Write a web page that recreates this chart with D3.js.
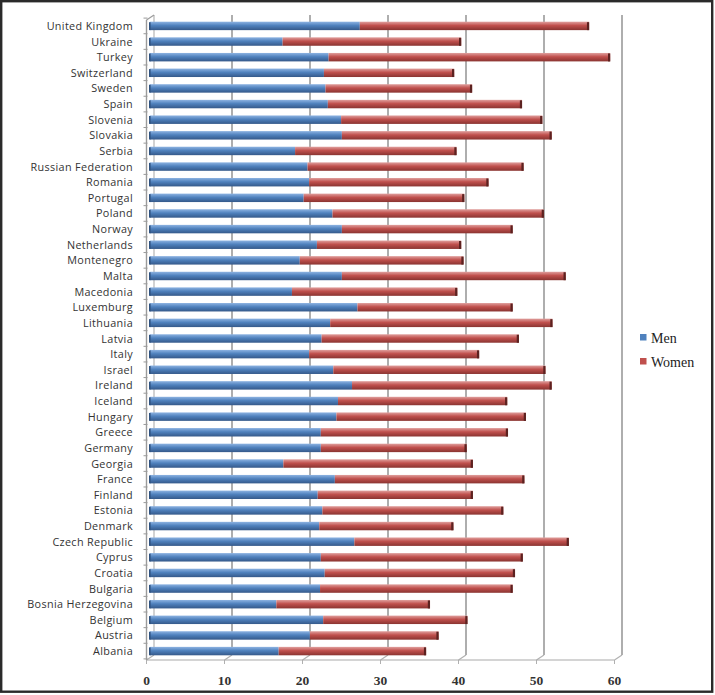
<!DOCTYPE html>
<html><head><meta charset="utf-8">
<script src="https://cdn.jsdelivr.net/npm/d3@7/dist/d3.min.js"></script>
<style>html,body{margin:0;padding:0;background:#fff;}svg{display:block;}</style>
</head><body>
<script>
const countries = ["United Kingdom","Ukraine","Turkey","Switzerland","Sweden","Spain","Slovenia","Slovakia","Serbia","Russian Federation","Romania","Portugal","Poland","Norway","Netherlands","Montenegro","Malta","Macedonia","Luxemburg","Lithuania","Latvia","Italy","Israel","Ireland","Iceland","Hungary","Greece","Germany","Georgia","France","Finland","Estonia","Denmark","Czech Republic","Cyprus","Croatia","Bulgaria","Bosnia Herzegovina","Belgium","Austria","Albania"];
const men   = [26.9,17.0,22.9,22.3,22.5,22.8,24.5,24.6,18.6,20.2,20.4,19.7,23.4,24.6,21.4,19.2,24.6,18.2,26.6,23.1,22.0,20.4,23.5,25.9,24.1,23.9,21.9,21.9,17.1,23.7,21.5,22.1,21.7,26.2,21.9,22.4,21.8,16.2,22.2,20.5,16.5];
const women = [29.4,22.9,36.1,16.7,18.8,24.9,25.8,26.9,20.7,27.7,23.0,20.6,27.1,21.9,18.5,21.0,28.7,21.2,19.9,28.5,25.3,21.8,27.2,25.6,21.7,24.3,24.0,18.7,24.3,24.3,19.9,23.2,17.2,27.5,25.9,24.4,24.7,19.7,18.5,16.5,18.9];
const xTicks = [0,10,20,30,40,50,60];
const seriesNames = ["Men","Women"];

const W = 715, H = 695;
const svg = d3.select("body").append("svg").attr("width", W).attr("height", H);
const defs = svg.append("defs");
function grad(id, top, mid, bot) {
  const g = defs.append("linearGradient").attr("id", id).attr("x1",0).attr("y1",0).attr("x2",0).attr("y2",1);
  g.append("stop").attr("offset","0%").attr("stop-color", top);
  g.append("stop").attr("offset","45%").attr("stop-color", mid);
  g.append("stop").attr("offset","100%").attr("stop-color", bot);
}
grad("gBlue", "#8db3e2", "#4f81bd", "#35598a");
grad("gRed", "#e0a09e", "#c0504d", "#8a3431");

// frame
svg.append("rect").attr("x",1.2).attr("y",1.2).attr("width",711).attr("height",690.5)
  .attr("fill","#fff").attr("stroke","#2a2a2a").attr("stroke-width",2.4);

const x = d3.scaleLinear().domain([0,60]).range([150,618]);
const y = d3.scaleBand().domain(countries).range([18.1, 658.9]).paddingInner(0.46).paddingOuter(0.23);

const backDx = 4, frontDx = -3.5, topY = 15, backBottom = 655, frontBottom = 660;

// gridlines (back wall)
const grid = svg.append("g");
xTicks.forEach(v => {
  if (v === 0) return;
  grid.append("line").attr("x1", x(v)+backDx).attr("x2", x(v)+backDx).attr("y1", topY).attr("y2", backBottom)
    .attr("stroke","#9a9a9a").attr("stroke-width",1.6);
});
// floor
xTicks.forEach(v => {
  grid.append("line").attr("x1", x(v)+backDx).attr("y1", backBottom).attr("x2", x(v)+frontDx).attr("y2", frontBottom)
    .attr("stroke","#b0b0b0").attr("stroke-width",1.2);
  grid.append("line").attr("x1", x(v)+frontDx).attr("x2", x(v)+frontDx).attr("y1", frontBottom).attr("y2", frontBottom+4)
    .attr("stroke","#b0b0b0").attr("stroke-width",1);
});
grid.append("line").attr("x1", x(0)+frontDx).attr("x2", x(60)+frontDx).attr("y1", frontBottom).attr("y2", frontBottom)
  .attr("stroke","#aaa").attr("stroke-width",1.2);
// left wall
grid.append("line").attr("x1", x(0)+backDx).attr("x2", x(0)+backDx).attr("y1", topY).attr("y2", backBottom)
  .attr("stroke","#b5b5b5").attr("stroke-width",1.2);
grid.append("line").attr("x1", x(0)+frontDx).attr("x2", x(0)+frontDx).attr("y1", topY+5).attr("y2", frontBottom)
  .attr("stroke","#9a9a9a").attr("stroke-width",1.4);
grid.append("line").attr("x1", x(0)+frontDx).attr("y1", topY+5).attr("x2", x(0)+backDx).attr("y2", topY)
  .attr("stroke","#9a9a9a").attr("stroke-width",1.2);
// left axis ticks at band boundaries
const step = y.step();
for (let i = 0; i <= countries.length; i++) {
  const yy = y(countries[0]) - y.paddingInner()*step/2 + i*step;
  grid.append("line").attr("x1", x(0)+frontDx-3).attr("x2", x(0)+frontDx+1).attr("y1", yy).attr("y2", yy)
    .attr("stroke","#9a9a9a").attr("stroke-width",1);
}

// bars
const bh = y.bandwidth();
const rows = svg.append("g").selectAll("g").data(countries).join("g");
rows.append("rect").attr("x", x(0)).attr("y", d => y(d)).attr("height", bh)
  .attr("width", (d,i) => x(men[i]) - x(0)).attr("fill","url(#gBlue)");
rows.append("rect").attr("x", (d,i) => x(men[i])).attr("y", d => y(d)).attr("height", bh)
  .attr("width", (d,i) => x(men[i]+women[i]) - x(men[i])).attr("fill","url(#gRed)");
rows.append("rect").attr("x", (d,i) => x(men[i]+women[i]) - 2.2).attr("y", d => y(d)+0.5).attr("height", bh-0.5)
  .attr("width", 2.2).attr("fill","#5c2220");
rows.append("rect").attr("x", x(0)-1).attr("y", d => y(d)+0.5).attr("height", bh-0.5)
  .attr("width", 1.6).attr("fill","#2f5280");

// category labels
svg.append("g").selectAll("text").data(countries).join("text")
  .attr("x", 133).attr("y", d => y(d) + bh/2 + 4)
  .attr("text-anchor","end")
  .attr("font-family","'Open Sans', sans-serif").attr("font-size", 10.8)
  .attr("letter-spacing", 0.35)
  .attr("fill","#333").text(d => d);

// x tick labels
svg.append("g").selectAll("text").data(xTicks).join("text")
  .attr("x", d => x(d) + frontDx).attr("y", 685).attr("text-anchor","middle")
  .attr("font-family","'Liberation Serif', serif").attr("font-weight","bold").attr("font-size", 13.5)
  .attr("fill","#333").text(d => d);

// legend
const legColors = ["#4f81bd","#c0504d"];
const leg = svg.append("g").selectAll("g").data(seriesNames).join("g")
  .attr("transform", (d,i) => `translate(640, ${334 + i*24})`);
leg.append("rect").attr("width",6.5).attr("height",6.5).attr("fill",(d,i)=>legColors[i]);
leg.append("text").attr("x", 11).attr("y", 8.5)
  .attr("font-family","'Liberation Serif', serif").attr("font-size", 14)
  .attr("fill","#222").text(d => d);
</script>
</body></html>
